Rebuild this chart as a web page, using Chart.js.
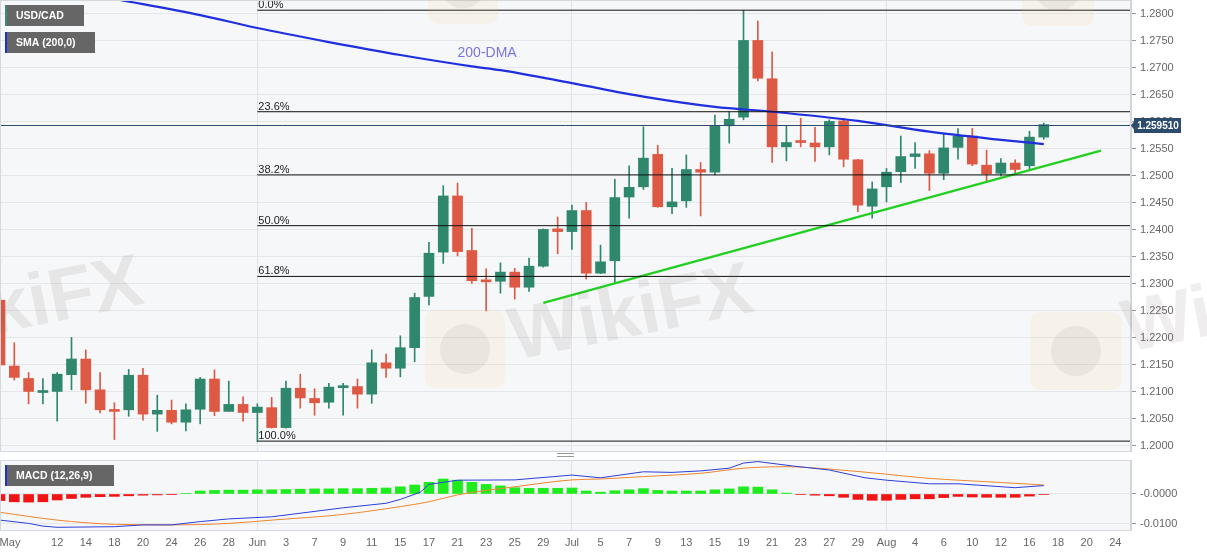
<!DOCTYPE html>
<html>
<head>
<meta charset="utf-8">
<script src="https://cdn.jsdelivr.net/npm/chart.js@4.4.0/dist/chart.umd.min.js"></script>
<style>
html, body { margin: 0; padding: 0; background: #fff; }
#main { position: absolute; left: 0; top: 0; width: 1207px; height: 455px; }
#macd { position: absolute; left: 0; top: 451px; width: 1207px; height: 104px; }
</style>
</head>
<body>
<div id="main"><canvas id="mainChart"></canvas></div>
<div id="macd"><canvas id="macdChart"></canvas></div>
<script>
// daily candles, trading days only
const dates = ['May 6','May 7','May 10','May 11','May 12','May 13','May 14','May 17','May 18','May 19','May 20','May 21','May 24','May 25','May 26','May 27','May 28','May 31',
  'Jun 1','Jun 2','Jun 3','Jun 4','Jun 7','Jun 8','Jun 9','Jun 10','Jun 11','Jun 14','Jun 15','Jun 16','Jun 17','Jun 18','Jun 21','Jun 22','Jun 23','Jun 24','Jun 25','Jun 28','Jun 29','Jun 30',
  'Jul 1','Jul 2','Jul 5','Jul 6','Jul 7','Jul 8','Jul 9','Jul 12','Jul 13','Jul 14','Jul 15','Jul 16','Jul 19','Jul 20','Jul 21','Jul 22','Jul 23','Jul 26','Jul 27','Jul 28','Jul 29','Jul 30',
  'Aug 2','Aug 3','Aug 4','Aug 5','Aug 6','Aug 9','Aug 10','Aug 11','Aug 12','Aug 13','Aug 16','Aug 17'];

const open = [1.2270,1.2148,1.2125,1.2099,1.2101,1.2132,1.2161,1.2104,1.2067,1.2067,
  1.2131,1.2059,1.2066,1.2044,1.2068,1.2124,1.2064,1.2077,1.2062,1.2071,
  1.2034,1.2107,1.2088,1.2081,1.2108,1.2110,1.2096,1.2154,1.2144,1.2182,
  1.2277,1.2359,1.2463,1.2362,1.2305,1.2305,1.2322,1.2294,1.2333,1.2402,
  1.2397,1.2436,1.2320,1.2343,1.2461,1.2480,1.2540,1.2443,1.2454,1.2512,
  1.2507,1.2593,1.2609,1.2751,1.2680,1.2554,1.2565,1.2561,1.2554,1.2602,
  1.2530,1.2444,1.2480,1.2508,1.2536,1.2541,1.2505,1.2553,1.2574,1.2520,
  1.2505,1.2524,1.2519,1.2572];
const high = [1.2289,1.2191,1.2136,1.2125,1.2136,1.2201,1.2178,1.2136,1.2080,1.2142,
  1.2144,1.2094,1.2085,1.2078,1.2127,1.2141,1.2120,1.2091,1.2078,1.2090,
  1.2120,1.2133,1.2106,1.2116,1.2116,1.2124,1.2178,1.2170,1.2204,1.2283,
  1.2377,1.2482,1.2487,1.2403,1.2328,1.2339,1.2329,1.2348,1.2402,1.2424,
  1.2446,1.2451,1.2372,1.2494,1.2519,1.2591,1.2557,1.2514,1.2539,1.2525,
  1.2613,1.2619,1.2807,1.2787,1.2730,1.2593,1.2607,1.2590,1.2604,1.2607,
  1.2531,1.2489,1.2514,1.2574,1.2562,1.2547,1.2579,1.2588,1.2588,1.2548,
  1.2532,1.2530,1.2583,1.2598];
const low = [1.2145,1.2122,1.2078,1.2078,1.2046,1.2104,1.2079,1.2061,1.2012,1.2055,
  1.2048,1.2027,1.2041,1.2028,1.2041,1.2056,1.2064,1.2046,1.2008,1.2033,
  1.2033,1.2070,1.2057,1.2070,1.2057,1.2070,1.2079,1.2127,1.2128,1.2156,
  1.2261,1.2338,1.2352,1.2301,1.2250,1.2283,1.2272,1.2286,1.2331,1.2356,
  1.2364,1.2309,1.2319,1.2301,1.2422,1.2475,1.2442,1.2430,1.2442,1.2426,
  1.2502,1.2561,1.2604,1.2676,1.2525,1.2528,1.2554,1.2527,1.2539,1.2517,
  1.2434,1.2422,1.2452,1.2488,1.2514,1.2473,1.2493,1.2531,1.2519,1.2491,
  1.2500,1.2506,1.2512,1.2568];
const close = [1.2150,1.2127,1.2101,1.2100,1.2133,1.2161,1.2104,1.2067,1.2064,1.2131,
  1.2059,1.2066,1.2044,1.2067,1.2124,1.2064,1.2077,1.2062,1.2072,1.2034,
  1.2107,1.2089,1.2080,1.2109,1.2109,1.2096,1.2154,1.2144,1.2182,1.2275,
  1.2357,1.2463,1.2360,1.2306,1.2304,1.2322,1.2294,1.2333,1.2401,1.2397,
  1.2436,1.2320,1.2341,1.2460,1.2479,1.2533,1.2443,1.2452,1.2512,1.2507,
  1.2593,1.2605,1.2751,1.2681,1.2554,1.2562,1.2562,1.2554,1.2601,1.2531,
  1.2446,1.2476,1.2507,1.2536,1.2541,1.2505,1.2552,1.2574,1.2522,1.2504,
  1.2524,1.2512,1.2572,1.25951];
const lastPrice = 1.259510;

// 200-day SMA, read at a few candle positions
const smaIdx = [0, 8, 14, 18, 23, 28, 33, 35, 40, 45, 50, 54, 60, 65, 70, 73];
const smaVal = [1.2868, 1.2828, 1.2798, 1.2774, 1.2748, 1.2724, 1.2703, 1.2696, 1.2672, 1.2647, 1.2628, 1.2619, 1.2602, 1.2582, 1.2567, 1.2559];

// support line (green)
const trendIdx = [38, 77];
const trendVal = [1.2265, 1.2547];

// fibonacci retracement from Jun 1 low to Jul 19 high
const fibLabels = ['0.0%', '23.6%', '38.2%', '50.0%', '61.8%', '100.0%'];
const fibLevels = [1.2807, 1.2619, 1.2502, 1.2408, 1.2314, 1.2009];
const fibStart = 18;

// MACD (12,26,9)
const macdHist = [-0.0022,-0.0026,-0.0027,-0.0026,-0.0020,-0.0015,-0.0011,-0.0009,-0.0008,-0.0006,
  -0.0004,-0.0003,-0.0001,0.0002,0.0010,0.0012,0.0013,0.0013,0.0014,0.0014,
  0.0015,0.0016,0.0017,0.0017,0.0018,0.0018,0.0019,0.0020,0.0024,0.0030,
  0.0039,0.0050,0.0046,0.0039,0.0032,0.0027,0.0021,0.0019,0.0019,0.0019,
  0.0020,0.0010,0.0006,0.0011,0.0014,0.0018,0.0012,0.0010,0.0010,0.0010,
  0.0014,0.0017,0.0024,0.0023,0.0014,0.0003,-0.0002,-0.0004,-0.0006,-0.0011,
  -0.0018,-0.0021,-0.0021,-0.0018,-0.0016,-0.0016,-0.0012,-0.0008,-0.0010,-0.0011,
  -0.0011,-0.0011,-0.0007,-0.0002];
const macdIdx = [0,2,3,4,8,10,12,14,16,19,24,27,28,29.4,30,32,36,40,42,45,47,49,51,52,53,55.5,58,60.5,62,65,67,71,73];
const macdVal = [-0.0087,-0.0098,-0.0107,-0.0111,-0.0109,-0.0103,-0.0103,-0.0092,-0.0083,-0.0076,-0.0046,-0.0031,-0.0018,0.0006,0.0032,0.0046,0.0047,0.0063,0.0054,0.0074,0.0072,0.0077,0.0086,0.0103,0.0108,0.0093,0.0080,0.0054,0.0046,0.0034,0.0034,0.0021,0.0028];
const sigIdx = [0,4,8,12,16,19,24,28,30,32,36,40,42,45,49,52,55,58,62,65,69,73];
const sigVal = [-0.0061,-0.0087,-0.0101,-0.0103,-0.0098,-0.0087,-0.0068,-0.0042,-0.0026,-0.0003,0.0024,0.0047,0.0050,0.0058,0.0069,0.0086,0.0091,0.0083,0.0066,0.0052,0.0041,0.0030];

// axis ticks
const yTicks = [1.2000,1.2050,1.2100,1.2150,1.2200,1.2250,1.2300,1.2350,1.2400,1.2450,1.2500,1.2550,1.2600,1.2650,1.2700,1.2750,1.2800];
const macdTicks = [0, -0.01];
const xTickIdx = [0.7,4,6,8,10,12,14,16,18,20,22,24,26,28,30,32,34,36,38,40,42,44,46,48,50,52,54,56,58,60,62,64,66,68,70,72,74,76,78];
const xTickLabels = ['May','12','14','18','20','24','26','28','Jun','3','7','9','11','15','17','21','23','25','29','Jul','5','7','9','13','15','19','21','23','27','29','Aug','4','6','10','12','16','18','20','24'];
const monthIdx = [18, 40, 62];

const X_MAX = 79.1;
const UP = '#2f876e', DOWN = '#dd5943';
const FONT = '"Liberation Sans", Arial, sans-serif';
const idx = dates.map((d, i) => i);
const candleColor = idx.map(i => close[i] >= open[i] ? UP : DOWN);

function fitRight(scale) {
    scale.width = 76;
    scale.paddingTop = 0;
    scale.paddingBottom = 0;
}

function legendBox(ctx, x, y, w, h, text, strip) {
    ctx.fillStyle = '#666666';
    ctx.fillRect(x, y, w, h);
    ctx.fillStyle = strip;
    ctx.fillRect(x, y, 2, h);
    ctx.fillStyle = '#ffffff';
    ctx.font = 'bold 10.5px ' + FONT;
    ctx.textBaseline = 'middle';
    ctx.textAlign = 'left';
    ctx.fillText(text, x + 11, y + h / 2 + 1);
}

function watermark(ctx) {
    ctx.save();
    const logos = [[425, 310, 80, 78], [1030, 312, 92, 78], [428, -52, 70, 76], [1022, -50, 72, 76]];
    logos.forEach(([lx, ly, w, h]) => {
        ctx.fillStyle = 'rgba(247,212,115,0.11)';
        ctx.beginPath();
        ctx.roundRect(lx, ly, w, h, 10);
        ctx.fill();
        ctx.fillStyle = 'rgba(120,105,105,0.09)';
        ctx.beginPath();
        ctx.arc(lx + w / 2, ly + h / 2, Math.min(w, h) * 0.32, 0, Math.PI * 2);
        ctx.fill();
    });
    ctx.font = 'bold 74px ' + FONT;
    ctx.fillStyle = 'rgba(120,105,105,0.12)';
    ctx.textBaseline = 'alphabetic';
    [[-95, 352], [515, 360], [1128, 352]].forEach(([tx, ty]) => {
        ctx.save();
        ctx.translate(tx, ty);
        ctx.rotate(-0.2);
        ctx.fillText('WikiFX', 0, 0);
        ctx.restore();
    });
    ctx.restore();
}

const mainDecor = {
    id: 'mainDecor',
    beforeDraw(chart) {
        const { ctx, chartArea: a } = chart;
        ctx.save();
        ctx.fillStyle = '#f6f7f8';
        ctx.fillRect(a.left, a.top, a.right - a.left, a.bottom - a.top);
        ctx.restore();
    },
    afterDatasetsDraw(chart) {
        const { ctx, chartArea: a, scales: { x, y } } = chart;
        ctx.save();
        const py = Math.round(y.getPixelForValue(lastPrice)) + 0.5;
        ctx.strokeStyle = '#2d4b6d';
        ctx.lineWidth = 1;
        ctx.beginPath();
        ctx.moveTo(a.left, py);
        ctx.lineTo(a.right, py);
        ctx.stroke();

        ctx.font = '11px ' + FONT;
        ctx.fillStyle = '#222';
        ctx.textAlign = 'left';
        ctx.textBaseline = 'alphabetic';
        fibLevels.forEach((lv, k) => {
            ctx.fillText(fibLabels[k], x.getPixelForValue(fibStart) + 1, y.getPixelForValue(lv) - 2);
        });

        ctx.font = '14px ' + FONT;
        ctx.fillStyle = '#7575e0';
        ctx.textBaseline = 'middle';
        ctx.fillText('200-DMA', x.getPixelForValue(32), y.getPixelForValue(1.2728));
        ctx.restore();
    },
    afterDraw(chart) {
        const { ctx, chartArea: a, scales: { y } } = chart;
        ctx.save();
        ctx.strokeStyle = '#d4d8dd';
        ctx.lineWidth = 1;
        ctx.strokeRect(a.left + 0.5, a.top + 0.5, a.right - a.left - 1, a.bottom - a.top);

        // last price tag on the axis
        const py = Math.round(y.getPixelForValue(lastPrice)) + 0.5;
        ctx.fillStyle = '#2d4b6d';
        ctx.beginPath();
        ctx.moveTo(a.right, py);
        ctx.lineTo(a.right + 3, py - 4);
        ctx.lineTo(a.right + 3, py - 7.5);
        ctx.lineTo(a.right + 50, py - 7.5);
        ctx.lineTo(a.right + 50, py + 7.5);
        ctx.lineTo(a.right + 3, py + 7.5);
        ctx.lineTo(a.right + 3, py + 4);
        ctx.closePath();
        ctx.fill();
        ctx.fillStyle = '#fff';
        ctx.font = 'bold 10px ' + FONT;
        ctx.textAlign = 'center';
        ctx.textBaseline = 'middle';
        ctx.fillText(lastPrice.toFixed(6), a.right + 27, py + 0.5);

        legendBox(ctx, 5, 5, 79, 21, 'USD/CAD', '#3a8c74');
        legendBox(ctx, 5, 32, 90, 21, 'SMA (200,0)', '#1f2fd6');
        watermark(ctx);
        ctx.restore();
    }
};

const fibSets = fibLevels.map(lv => ({
    type: 'line',
    data: [{ x: fibStart, y: lv }, { x: X_MAX, y: lv }],
    borderColor: '#111',
    borderWidth: 1,
    pointRadius: 0,
    order: 0
}));

new Chart(document.getElementById('mainChart'), {
    type: 'bar',
    data: {
        datasets: [{
            label: 'wick',
            data: idx.map(i => ({ x: i, y: [low[i], high[i]] })),
            backgroundColor: candleColor,
            grouped: false,
            barThickness: 1,
            maxBarThickness: 1,
            order: 4
        }, {
            label: 'body',
            data: idx.map(i => ({ x: i, y: [open[i], close[i]] })),
            backgroundColor: candleColor,
            grouped: false,
            categoryPercentage: 1,
            barPercentage: 1,
            maxBarThickness: 10,
            minBarLength: 2,
            order: 3
        }, {
            type: 'line',
            label: 'SMA (200,0)',
            data: smaIdx.map((v, k) => ({ x: v, y: smaVal[k] })),
            borderColor: '#1f2fe0',
            borderWidth: 2.2,
            pointRadius: 0,
            cubicInterpolationMode: 'monotone',
            order: 1
        }, {
            type: 'line',
            label: 'trend',
            data: trendIdx.map((v, k) => ({ x: v, y: trendVal[k] })),
            borderColor: '#22cf22',
            borderWidth: 2.2,
            pointRadius: 0,
            order: 1
        }, ...fibSets]
    },
    options: {
        responsive: true,
        maintainAspectRatio: false,
        animation: false,
        devicePixelRatio: 1,
        layout: { padding: { top: 0, bottom: 4, left: 0, right: 0 } },
        plugins: { legend: { display: false }, tooltip: { enabled: false } },
        scales: {
            x: {
                type: 'linear',
                min: 0,
                max: X_MAX,
                offset: false,
                border: { display: false },
                grid: { color: '#dfe2e6', drawTicks: false, offset: false },
                ticks: { display: false },
                afterBuildTicks: s => { s.ticks = monthIdx.map(v => ({ value: v })); },
                afterFit: s => { s.height = 0; s.paddingLeft = 0; s.paddingRight = 0; }
            },
            y: {
                position: 'right',
                min: 1.19907,
                max: 1.28259,
                border: { color: '#cfd3d8' },
                grid: { color: '#e4e6ea', tickLength: 5, tickColor: '#999' },
                ticks: {
                    color: '#666',
                    padding: 4,
                    font: { family: FONT, size: 11 },
                    callback: v => v.toFixed(4)
                },
                afterBuildTicks: s => { s.ticks = yTicks.map(v => ({ value: v })); },
                afterFit: fitRight
            }
        }
    },
    plugins: [mainDecor]
});

const macdDecor = {
    id: 'macdDecor',
    beforeDraw(chart) {
        const { ctx, chartArea: a } = chart;
        ctx.save();
        ctx.fillStyle = '#f6f7f8';
        ctx.fillRect(a.left, a.top, a.right - a.left, a.bottom - a.top);
        ctx.restore();
    },
    afterDraw(chart) {
        const { ctx, chartArea: a } = chart;
        ctx.save();
        ctx.strokeStyle = '#d4d8dd';
        ctx.lineWidth = 1;
        ctx.strokeRect(a.left + 0.5, a.top + 0.5, a.right - a.left - 1, a.bottom - a.top);
        // panel resize handle
        ctx.strokeStyle = '#9a9a9a';
        ctx.beginPath();
        ctx.moveTo(557, 2.5); ctx.lineTo(574, 2.5);
        ctx.moveTo(557, 5.5); ctx.lineTo(574, 5.5);
        ctx.stroke();
        legendBox(ctx, 5, 14, 109, 21, 'MACD (12,26,9)', '#1f2fd6');
        ctx.restore();
    }
};

new Chart(document.getElementById('macdChart'), {
    type: 'bar',
    data: {
        datasets: [{
            label: 'hist',
            data: idx.map(i => ({ x: i, y: macdHist[i] })),
            backgroundColor: macdHist.map(v => v >= 0 ? '#1fec1f' : '#f01414'),
            grouped: false,
            categoryPercentage: 1,
            barPercentage: 1,
            maxBarThickness: 10,
            order: 3
        }, {
            type: 'line',
            label: 'MACD',
            data: macdIdx.map((v, k) => ({ x: v, y: macdVal[k] })),
            borderColor: '#2d3fd8',
            borderWidth: 1,
            pointRadius: 0,
            order: 1
        }, {
            type: 'line',
            label: 'signal',
            data: sigIdx.map((v, k) => ({ x: v, y: sigVal[k] })),
            borderColor: '#f0872d',
            borderWidth: 1,
            pointRadius: 0,
            cubicInterpolationMode: 'monotone',
            order: 2
        }]
    },
    options: {
        responsive: true,
        maintainAspectRatio: false,
        animation: false,
        devicePixelRatio: 1,
        layout: { padding: { top: 9, bottom: 0, left: 0, right: 0 } },
        plugins: { legend: { display: false }, tooltip: { enabled: false } },
        scales: {
            x: {
                type: 'linear',
                min: 0,
                max: X_MAX,
                offset: false,
                border: { display: false },
                grid: {
                    drawTicks: false,
                    offset: false,
                    color: c => (c.tick && monthIdx.includes(c.tick.value)) ? '#dfe2e6' : 'rgba(0,0,0,0)'
                },
                ticks: {
                    color: '#666',
                    padding: 6,
                    autoSkip: false,
                    maxRotation: 0,
                    font: { family: FONT, size: 11 },
                    callback: v => {
                        const k = xTickIdx.indexOf(v);
                        return k >= 0 ? xTickLabels[k] : '';
                    }
                },
                afterBuildTicks: s => { s.ticks = xTickIdx.map(v => ({ value: v })); },
                afterFit: s => { s.height = 25; s.paddingLeft = 0; s.paddingRight = 0; }
            },
            y: {
                position: 'right',
                min: -0.012,
                max: 0.01133,
                border: { color: '#cfd3d8' },
                grid: { color: '#e4e6ea', tickLength: 5, tickColor: '#999' },
                ticks: {
                    color: '#666',
                    padding: 4,
                    font: { family: FONT, size: 11 },
                    callback: v => (v <= 0 ? '-' : '') + Math.abs(v).toFixed(4)
                },
                afterBuildTicks: s => { s.ticks = macdTicks.map(v => ({ value: v })); },
                afterFit: fitRight
            }
        }
    },
    plugins: [macdDecor]
});
</script>
</body>
</html>
